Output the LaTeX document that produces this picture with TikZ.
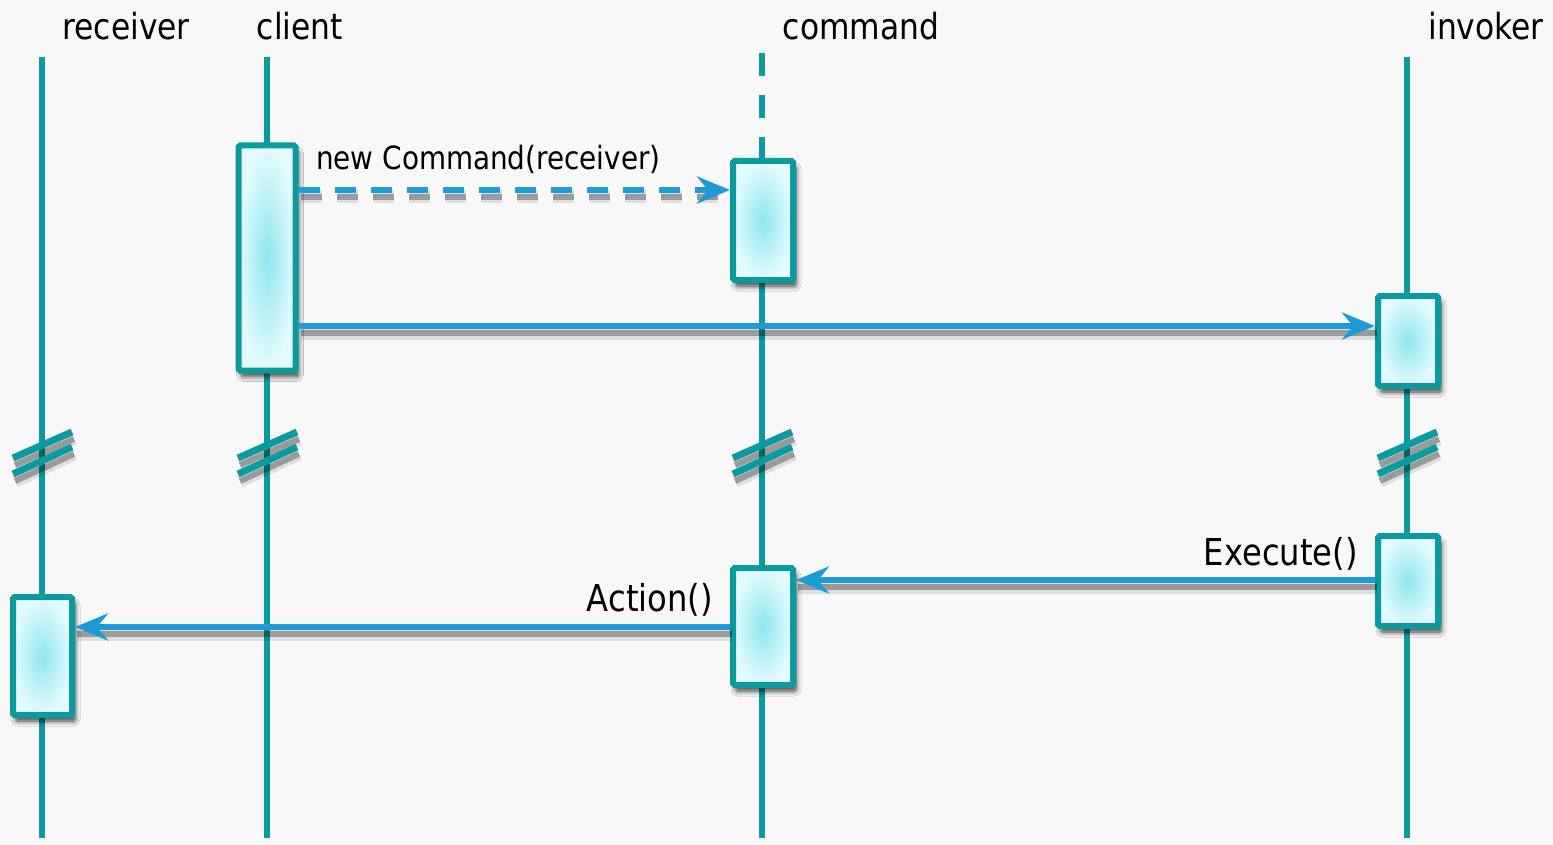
\documentclass[tikz,border=0pt]{standalone}
\usepackage{fontspec}
\setmainfont{DejaVu Sans}[FakeStretch=0.87]
\usetikzlibrary{arrows.meta,shadows.blur}
\definecolor{tealc}{HTML}{0B9A9E}
\definecolor{msgc}{HTML}{1E9AD6}
\definecolor{bgc}{HTML}{F8F8F8}
\definecolor{boxin}{HTML}{8EE7EE}
\definecolor{boxout}{HTML}{E4FBFD}
\tikzset{
  lifeline/.style={draw=tealc, line width=6pt},
  lshadow/.style={preaction={draw=black, opacity=0.10, line width=13pt, -, transform canvas={xshift=2pt, yshift=-7pt}},
                  preaction={draw=black, opacity=0.30, line width=6pt, -, transform canvas={xshift=2pt, yshift=-7pt}}},
  dshadow/.style={preaction={draw=black, opacity=0.10, line width=13pt, -, dash pattern=on 21pt off 15pt, transform canvas={xshift=2pt, yshift=-7pt}},
                  preaction={draw=black, opacity=0.30, line width=6pt, -, dash pattern=on 21pt off 15pt, transform canvas={xshift=2pt, yshift=-7pt}}},
  act/.style={draw=tealc, line width=6pt, rounded corners=1.5pt, shading=radial, inner color=boxin, outer color=boxout,
              inner sep=0pt, minimum width=60pt,
              blur shadow={shadow xshift=3pt, shadow yshift=-6pt, shadow blur steps=8, shadow blur radius=5pt, shadow opacity=75}},
  arr/.style={draw=msgc, line width=5.5pt, -{Stealth[length=33pt,width=27pt,inset=11pt]}},
  msgsolid/.style={arr, lshadow},
  msgdash/.style={arr, dshadow, dash pattern=on 21pt off 15pt},
  brk/.style={draw=tealc, line width=7pt, lshadow},
  title/.style={font=\fontsize{36}{40}\selectfont, text=black, inner sep=0pt},
  lbl/.style={font=\fontsize{37}{40}\selectfont, text=black, inner sep=0pt},
  lblsmall/.style={font=\fontsize{32}{36}\selectfont, text=black, inner sep=0pt}
}
\begin{document}
\begin{tikzpicture}[x=1pt,y=-1pt]
\useasboundingbox[fill=bgc] (0,0) rectangle (1553,845);

% titles
\node[title, anchor=base] (trc) at (126,40) {receiver};
\node[title, anchor=base] (tcl) at (300,40) {client};
\node[title, anchor=base] (tcm) at (861,40) {command};
\node[title, anchor=base] (tiv) at (1486,40) {invoker};

% lifeline ends
\coordinate (rcT) at (42,57);   \coordinate (rcB) at (42,838);
\coordinate (clT) at (267,57);  \coordinate (clB) at (267,838);
\coordinate (cmT) at (762,53);  \coordinate (cmM) at (762,160);
\coordinate (cmS) at (762,283); \coordinate (cmB) at (762,838);
\coordinate (ivT) at (1407,57); \coordinate (ivB) at (1407,838);

\draw[lifeline] (rcT) -- (rcB);
\draw[lifeline] (clT) -- (clB);
\draw[lifeline, dash pattern=on 23pt off 19pt] (cmT) -- (cmM);
\draw[lifeline] (cmS) -- (cmB);
\draw[lifeline] (ivT) -- (ivB);

% break marks
\foreach \x in {42,267,762,1407}{
  \draw[brk] (\x-29,458) -- (\x+30,432);
  \draw[brk] (\x-29,474) -- (\x+30,447);
}

% activation boxes
\node[act, minimum width=57pt, minimum height=225pt] (cl)  at (267,258) {};
\node[act, minimum width=60pt, minimum height=119pt] (cm1) at (763,220.5) {};
\node[act, minimum width=60pt, minimum height=90pt]  (iv1) at (1408,341) {};
\node[act, minimum width=60pt, minimum height=90pt]  (iv2) at (1408,581) {};
\node[act, minimum width=60pt, minimum height=117pt] (cm2) at (763,626.5) {};
\node[act, minimum width=59pt, minimum height=118pt] (rc)  at (42.5,656) {};

% message rows
\coordinate (m1) at (0,190);
\coordinate (m2) at (0,326);
\coordinate (m3) at (0,580);
\coordinate (m4) at (0,627);

\draw[msgdash]  (cl.east |- m1) -- (cm1.west |- m1);
\draw[msgsolid] (cl.east |- m2) -- (iv1.west |- m2);
\draw[msgsolid] (iv2.west |- m3) -- (cm2.east |- m3);
\draw[msgsolid] (cm2.west |- m4) -- (rc.east |- m4);

% labels
\node[lblsmall, anchor=base west] (l1) at (316,170) {new Command(receiver)};
\node[lbl, anchor=base east] (l3) at (1358,565) {Execute()};
\node[lbl, anchor=base east] (l4) at (713,611) {Action()};
\end{tikzpicture}
\end{document}
